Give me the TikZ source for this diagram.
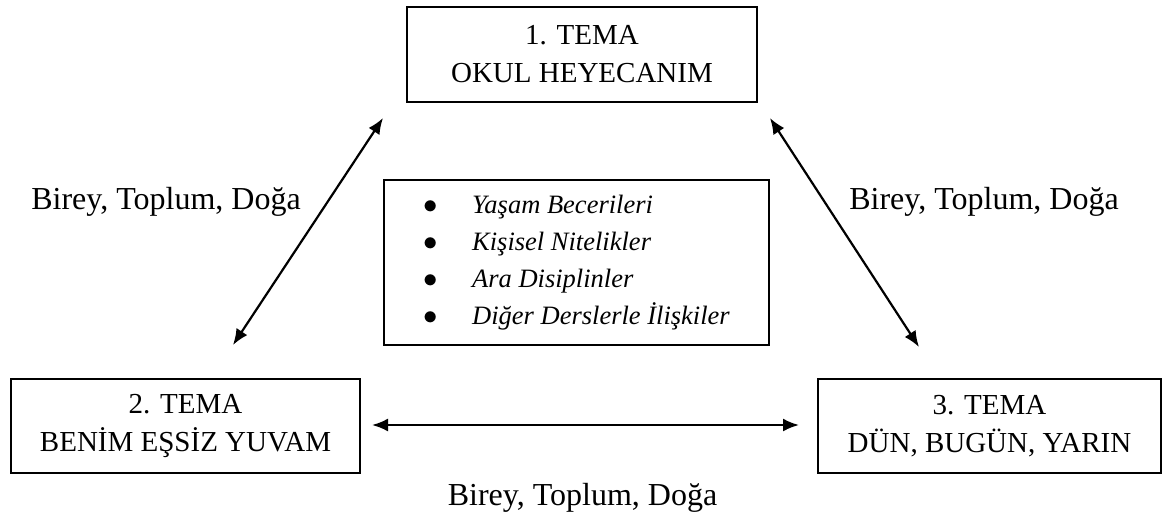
\documentclass[tikz,border=0pt]{standalone}
\usepackage{fontspec}
\setmainfont{Liberation Serif}
\usetikzlibrary{arrows.meta}

\newcommand{\madde}[1]{\makebox[24.5pt][l]{\raisebox{-0.3pt}{\fontsize{15.5}{18.5}\selectfont$\bullet$}}\textit{#1}}

\begin{document}
\begin{tikzpicture}[x=0.5pt,y=-0.5pt,
        tema/.style={draw,line width=1pt,align=center,inner sep=0pt,font=\fontsize{14.5}{19}\selectfont},
        iliski/.style={{Latex[length=8pt,width=6.5pt]}-{Latex[length=8pt,width=6.5pt]},line width=1.1pt},
        etiket/.style={anchor=base,font=\fontsize{16}{19}\selectfont}]
        \useasboundingbox (0,0) rectangle (1164,515);

        \node[tema,minimum width=175pt,minimum height=47.5pt] (tema1) at (582,54.5) {1. TEMA\\OKUL HEYECANIM};
        \node[tema,minimum width=174.5pt,minimum height=47pt] (tema2) at (185.5,426) {2. TEMA\\BENİM EŞSİZ YUVAM};
        \node[tema,minimum width=171.5pt,minimum height=47pt] (tema3) at (989.5,426) {3. TEMA\\DÜN, BUGÜN, YARIN};

        \node[draw,line width=1pt,minimum width=192.5pt,minimum height=82.5pt,inner sep=0pt,align=left,
              font=\fontsize{13.25}{18.5}\selectfont] (liste) at (576.5,262.5)
              {\madde{Yaşam Becerileri}\\\madde{Kişisel Nitelikler}\\\madde{Ara Disiplinler}\\\madde{Diğer Derslerle İlişkiler}};

        % ok uclari
        \coordinate (u12) at (383,118);
        \coordinate (u21) at (233,345);
        \coordinate (u13) at (770,118);
        \coordinate (u31) at (919,347);
        \coordinate (u23) at (372,425);
        \coordinate (u32) at (799,425);

        \draw[iliski] (u12) -- (u21);
        \draw[iliski] (u13) -- (u31);
        \draw[iliski] (u23) -- (u32);

        \node[etiket] (et12) at (166,209) {Birey, Toplum, Doğa};
        \node[etiket] (et13) at (984,209) {Birey, Toplum, Doğa};
        \node[etiket] (et23) at (582.5,505) {Birey, Toplum, Doğa};

    \end{tikzpicture}
\end{document}
